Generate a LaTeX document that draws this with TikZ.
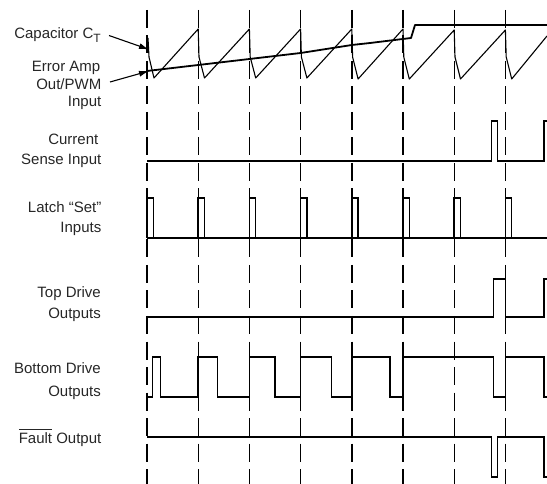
\documentclass[tikz,border=0pt]{standalone}
\usepackage{fontspec}
\setmainfont{Liberation Sans}
\usetikzlibrary{arrows.meta}
\newcommand\fltbar[1]{\setbox0=\hbox{#1}\rlap{\rule[12.8pt]{\wd0}{1.4pt}}\box0}
\begin{document}
\begin{tikzpicture}[x=1pt,y=-1pt,
  lbl/.style={anchor=base east, inner sep=0pt, font=\fontsize{15}{17}\selectfont, text=black!85},
  gridline/.style={line width=1.4pt, dash pattern=on 18pt off 7.5pt},
  sig/.style={line width=1.5pt, line join=miter},
  saw/.style={line width=1.1pt, line join=round},
  erramp/.style={line width=1.8pt, line join=round},
  arr/.style={line width=1.1pt, -{Latex[length=10pt,width=6pt]}}]
\useasboundingbox (0,0) rectangle (547,484);

% dashed timing lines
\foreach \x in {147,198.2,249.4,300.6,351.8,403,454.2,505.4}
  \draw[gridline] (\x,10) -- (\x,484);

% labels
\node[lbl] (lblCap) at (101,38.5) {Capacitor C\raisebox{-3.8pt}{\fontsize{12}{14}\selectfont T}};
\node[lbl] (lblErrA) at (100.5,72) {Error Amp};
\node[lbl] (lblErrB) at (101.5,89.5) {Out/PWM};
\node[lbl] (lblErrC) at (101.5,106.5) {Input};
\node[lbl] (lblCurA) at (98.5,145) {Current};
\node[lbl] (lblCurB) at (101.5,165) {Sense Input};
\node[lbl] (lblLatA) at (101.5,213) {Latch “Set”};
\node[lbl] (lblLatB) at (101.5,233) {Inputs};
\node[lbl] (lblTopA) at (101,298) {Top Drive};
\node[lbl] (lblTopB) at (101,318.5) {Outputs};
\node[lbl] (lblBotA) at (101,373) {Bottom Drive};
\node[lbl] (lblBotB) at (101,396.5) {Outputs};
\node[lbl] (lblFault) at (101.5,443) {\fltbar{Fault}\ Output};

% arrows from labels
\coordinate (capTip) at (149,49.5);
\coordinate (errTip) at (149,71);
\draw[arr] ([shift={(8,-3)}]lblCap.base east) -- (capTip);
\draw[arr] ([shift={(8.5,-7.5)}]lblErrB.base east) -- (errTip);

% capacitor sawtooth
\draw[saw] (148,38) -- (149,57) -- (154,78)
  -- (198.2,29) -- (199,57) -- (204.5,78)
  -- (249.4,29) -- (250.2,57) -- (255.7,78)
  -- (300.6,29) -- (301.4,57) -- (306.9,78)
  -- (351.8,29) -- (352.6,57) -- (358.1,79)
  -- (403,29) -- (403.8,57) -- (409.3,79)
  -- (454.2,30) -- (455,57) -- (460.5,79)
  -- (505.4,30) -- (506.2,57) -- (511.7,79)
  -- (547,36);

% error amp output
\draw[erramp] (147,71) -- (198.2,65) -- (249.4,59) -- (300.6,53) -- (351.8,45)
  -- (370,43) -- (411,38) -- (415,25) -- (547,25);

% current sense input
\draw[sig] (147,161) -- (491.7,161) -- (491.7,121) -- (497.3,121) -- (497.3,161)
  -- (544,161) -- (544,121) -- (547,121);

% latch set inputs
\draw[sig] (147,238) -- (547,238);
\foreach \x in {147,198.2,249.4,300.6,351.8,403,454.2,505.4}
  \draw[sig] (\x,238) -- (\x,198) -- (\x+6.3,198) -- (\x+6.3,238);

% top drive outputs
\draw[sig] (147,317) -- (493.3,317) -- (493.3,279) -- (505.4,279) -- (505.4,317)
  -- (544,317) -- (544,279) -- (547,279);

% bottom drive outputs
\draw[sig] (147,397) -- (152.5,397) -- (152.5,357) -- (160.7,357) -- (160.7,397)
  -- (198.2,397) -- (198.2,357) -- (217.3,357) -- (217.3,397)
  -- (249.4,397) -- (249.4,357) -- (275,357) -- (275,397)
  -- (300.6,397) -- (300.6,357) -- (331.7,357) -- (331.7,397)
  -- (351.8,397) -- (351.8,357) -- (390,357) -- (390,397)
  -- (403,397) -- (403,357) -- (493.3,357) -- (493.3,397)
  -- (505.4,397) -- (505.4,357) -- (544,357) -- (544,397) -- (547,397);

% fault output
\draw[sig] (147,437) -- (491.7,437) -- (491.7,477) -- (497.3,477) -- (497.3,437)
  -- (544,437) -- (544,477) -- (547,477);
\end{tikzpicture}
\end{document}
